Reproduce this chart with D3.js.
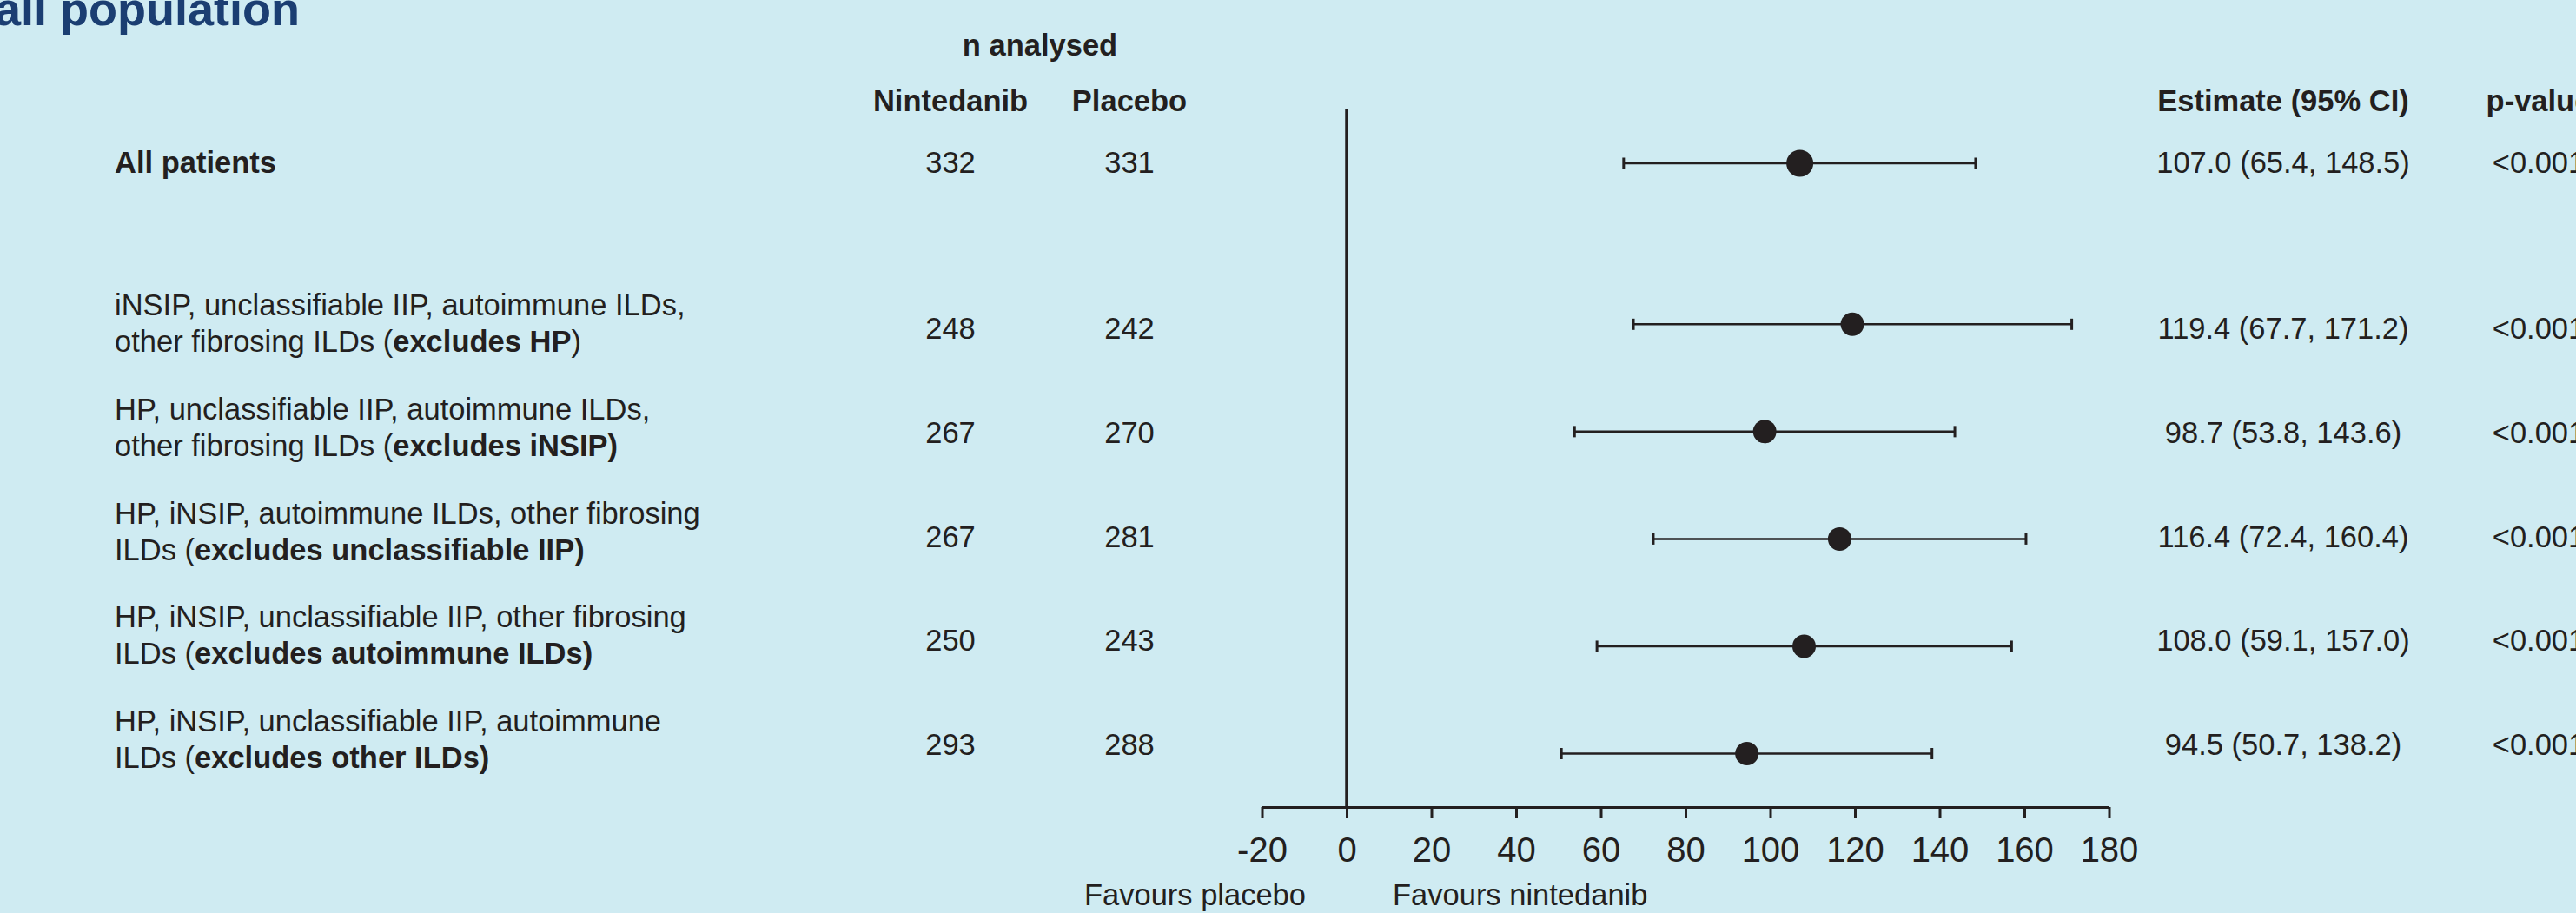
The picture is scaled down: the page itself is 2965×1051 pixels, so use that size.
<!DOCTYPE html>
<html>
<head>
<meta charset="utf-8">
<script src="https://cdn.jsdelivr.net/npm/d3@7"></script>
<style>
  body { margin: 0; background: #cfebf2; }
  svg { display: block; font-family: "Liberation Sans", Arial, sans-serif; }
  .txt { fill: #231f20; font-size: 34.5px; }
  .bold { font-weight: bold; }
</style>
</head>
<body>
<div id="forest"></div>
<script>
(function () {
  /* ----------------------- Data ----------------------- */
  const overallLabel = "All patients";
  const subgroupLines = [
    ["iNSIP, unclassifiable IIP, autoimmune ILDs,", "other fibrosing ILDs (", "excludes HP", ")"],
    ["HP, unclassifiable IIP, autoimmune ILDs,", "other fibrosing ILDs (", "excludes iNSIP)", ""],
    ["HP, iNSIP, autoimmune ILDs, other fibrosing", "ILDs (", "excludes unclassifiable IIP)", ""],
    ["HP, iNSIP, unclassifiable IIP, other fibrosing", "ILDs (", "excludes autoimmune ILDs)", ""],
    ["HP, iNSIP, unclassifiable IIP, autoimmune", "ILDs (", "excludes other ILDs)", ""],
  ];
  const nNintedanib = [332, 248, 267, 267, 250, 293];
  const nPlacebo = [331, 242, 270, 281, 243, 288];
  const estimates = [107.0, 119.4, 98.7, 116.4, 108.0, 94.5];
  const lowerCI = [65.4, 67.7, 53.8, 72.4, 59.1, 50.7];
  const upperCI = [148.5, 171.2, 143.6, 160.4, 157.0, 138.2];
  const pValues = ["<0.001", "<0.001", "<0.001", "<0.001", "<0.001", "<0.001"];
  const xTicks = [-20, 0, 20, 40, 60, 80, 100, 120, 140, 160, 180];
  // row slot for each line (gap after the overall row)
  const slots = [0, 1.5, 2.5, 3.5, 4.5, 5.5];

  const rows = estimates.map((d, i) => ({
    est: d, lo: lowerCI[i], hi: upperCI[i],
    nN: nNintedanib[i], nP: nPlacebo[i], p: pValues[i], slot: slots[i],
  }));

  /* ----------------------- Canvas ----------------------- */
  const width = 2965, height = 1051;
  const svg = d3.select("#forest").append("svg")
    .attr("width", width).attr("height", height);

  const ink = "#231f20";
  const fmt = d3.format(".1f");

  /* ----------------------- Scales ----------------------- */
  const x = d3.scaleLinear().domain([-20, 180]).range([1452.5, 2427.5]);
  const yBar = d3.scaleLinear().domain([0, 5.5]).range([188, 867.5]);
  const yText = d3.scaleLinear().domain([1.5, 5.5]).range([390, 869]);
  const textBase = (d) => (d.slot === 0 ? yBar(0) + 11 : yText(d.slot));

  const colNint = 1094, colPlac = 1300, colEst = 2628, colP = 2922;
  const labelX = 132;

  /* ----------------------- Title & headers ----------------------- */
  svg.append("text")
    .attr("x", 345).attr("y", 29)
    .attr("text-anchor", "end")
    .attr("font-weight", "bold")
    .attr("font-size", 54)
    .attr("fill", "#1b3e72")
    .text("Overall population");

  const header = [
    { t: "n analysed", x: (colNint + colPlac) / 2, y: 64 },
    { t: "Nintedanib", x: colNint, y: 128 },
    { t: "Placebo", x: colPlac, y: 128 },
    { t: "Estimate (95% CI)", x: colEst, y: 128 },
    { t: "p-value", x: colP, y: 128 },
  ];
  svg.selectAll(".hdr").data(header).enter().append("text")
    .attr("class", "txt bold")
    .attr("x", (d) => d.x).attr("y", (d) => d.y)
    .attr("text-anchor", "middle")
    .text((d) => d.t);

  /* ----------------------- Row labels ----------------------- */
  svg.append("text")
    .attr("class", "txt bold")
    .attr("x", labelX).attr("y", textBase(rows[0]))
    .text(overallLabel);

  subgroupLines.forEach((lines, i) => {
    const base = textBase(rows[i + 1]);
    svg.append("text").attr("class", "txt")
      .attr("x", labelX).attr("y", base - 27)
      .text(lines[0]);
    const t2 = svg.append("text").attr("class", "txt")
      .attr("x", labelX).attr("y", base + 15);
    t2.append("tspan").text(lines[1]);
    t2.append("tspan").attr("font-weight", "bold").text(lines[2]);
    if (lines[3]) t2.append("tspan").text(lines[3]);
  });

  /* ----------------------- Number columns ----------------------- */
  const cols = [
    { x: colNint, f: (d) => d.nN },
    { x: colPlac, f: (d) => d.nP },
    { x: colEst, f: (d) => `${fmt(d.est)} (${fmt(d.lo)}, ${fmt(d.hi)})` },
    { x: colP, f: (d) => d.p },
  ];
  cols.forEach((c) => {
    svg.selectAll(null).data(rows).enter().append("text")
      .attr("class", "txt")
      .attr("x", c.x).attr("y", textBase)
      .attr("text-anchor", "middle")
      .text(c.f);
  });

  /* ----------------------- Axis & reference line ----------------------- */
  const axisY = 929;
  const axis = svg.append("g")
    .attr("transform", `translate(0,${axisY})`)
    .call(d3.axisBottom(x)
      .tickValues(xTicks)
      .tickFormat((d) => String(d)) // plain hyphen like the original
      .tickSize(13).tickSizeOuter(0).tickPadding(21.5));
  axis.select(".domain").attr("stroke", ink).attr("stroke-width", 3);
  axis.selectAll(".tick line").attr("stroke", ink).attr("stroke-width", 3);
  axis.selectAll(".tick text")
    .attr("fill", ink)
    .attr("font-size", 40)
    .attr("font-family", "Liberation Sans, Arial, sans-serif");

  svg.append("line")
    .attr("x1", x(0)).attr("x2", x(0))
    .attr("y1", 126).attr("y2", axisY)
    .attr("stroke", ink).attr("stroke-width", 3.5);

  svg.append("text").attr("class", "txt")
    .attr("x", 1503).attr("y", 1042)
    .attr("text-anchor", "end").attr("font-size", 35)
    .text("Favours placebo");
  svg.append("text").attr("class", "txt")
    .attr("x", 1603).attr("y", 1042)
    .attr("font-size", 35)
    .text("Favours nintedanib");

  /* ----------------------- Error bars & points ----------------------- */
  const g = svg.append("g");
  g.selectAll(".ci").data(rows).enter().append("line")
    .attr("x1", (d) => x(d.lo)).attr("x2", (d) => x(d.hi))
    .attr("y1", (d) => yBar(d.slot)).attr("y2", (d) => yBar(d.slot))
    .attr("stroke", ink).attr("stroke-width", 2.5);

  ["lo", "hi"].forEach((k) => {
    g.selectAll(null).data(rows).enter().append("line")
      .attr("x1", (d) => x(d[k])).attr("x2", (d) => x(d[k]))
      .attr("y1", (d) => yBar(d.slot) - 6.5).attr("y2", (d) => yBar(d.slot) + 6.5)
      .attr("stroke", ink).attr("stroke-width", 3);
  });

  g.selectAll(".pt").data(rows).enter().append("circle")
    .attr("cx", (d) => x(d.est)).attr("cy", (d) => yBar(d.slot))
    .attr("r", (d) => (d.slot === 0 ? 15.5 : 13.5))
    .attr("fill", ink);
})();
</script>
</body>
</html>
